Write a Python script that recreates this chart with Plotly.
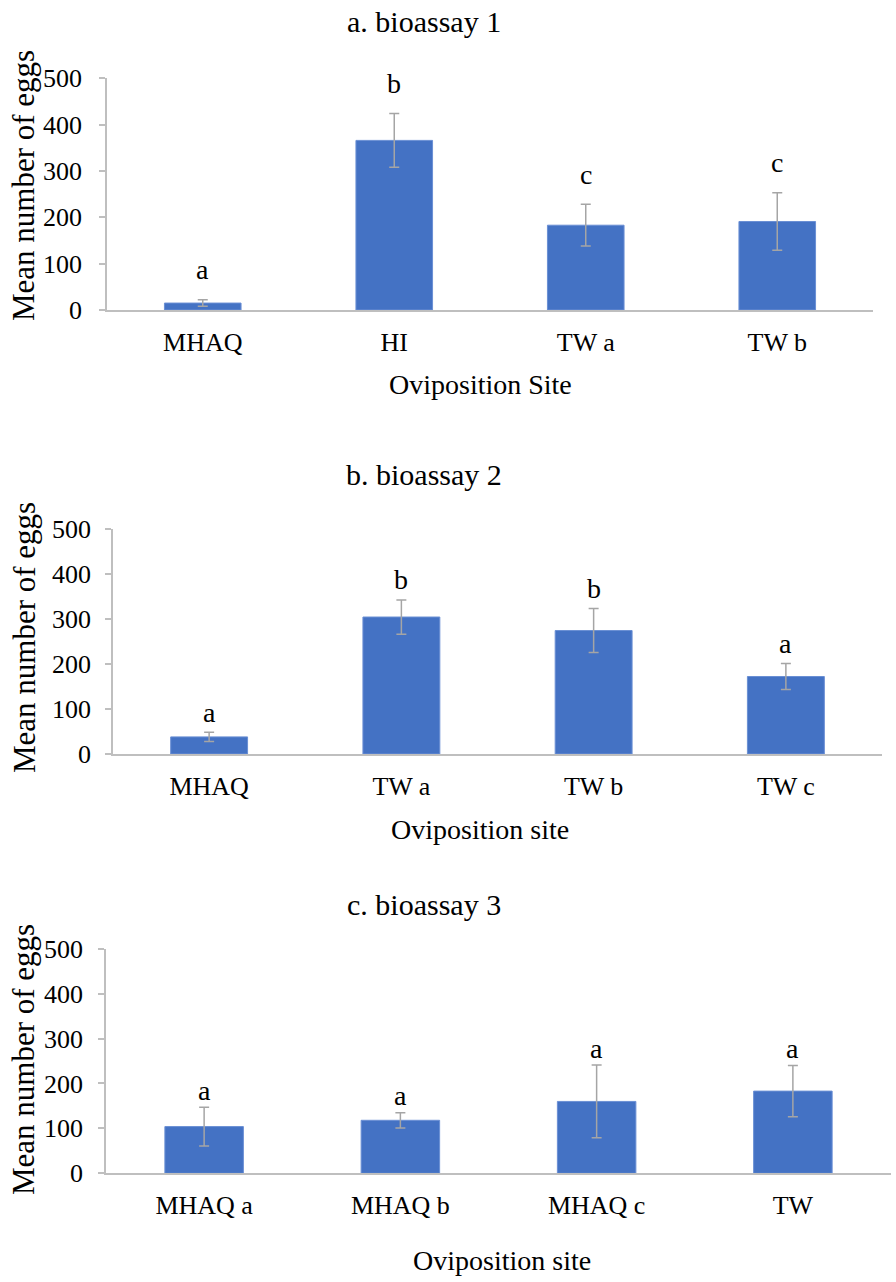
import plotly.graph_objects as go

# ---------------- data ----------------
cats_a = ["MHAQ", "HI", "TW a", "TW b"]
mean_a = [15, 366, 183, 191]
err_a = [7, 58, 45, 62]
let_a = ["a", "b", "c", "c"]

cats_b = ["MHAQ", "TW a", "TW b", "TW c"]
mean_b = [38, 304, 274, 172]
err_b = [10, 38, 49, 29]
let_b = ["a", "b", "b", "a"]

cats_c = ["MHAQ a", "MHAQ b", "MHAQ c", "TW"]
mean_c = [104, 118, 160, 183]
err_c = [43, 17, 81, 57]
let_c = ["a", "a", "a", "a"]

titles = ["a. bioassay 1", "b. bioassay 2", "c. bioassay 3"]
xtitles = ["Oviposition Site", "Oviposition site", "Oviposition site"]
ytitle = "Mean number of eggs"
y_ticks = [0, 100, 200, 300, 400, 500]

# ---------------- layout helpers ----------------
W, H = 896, 1282
FONT = "Liberation Serif"
BAR = "#4472C4"
AXC = "#BFBFBF"
ERRC = "#A5A5A5"


def px(x):
    return x / W


def py(y):
    return 1 - y / H


# pixel geometry of each panel: (x0, x1, ytop(500), ybottom(0))
geo = [(107, 873, 78.3, 310), (113, 882, 528.7, 754), (106, 891, 948.7, 1173.3)]
title_mid = [22, 474, 904]
title_x = [424, 424, 424]
xtitle_pos = [(480, 384), (480, 829), (502, 1260)]
ytitle_pos = [(23, 186), (24, 638), (23, 1060)]
letter_shift = [30, 20, 17]
tick_standoff = [12, 9, 10]

panels = [(cats_a, mean_a, err_a, let_a), (cats_b, mean_b, err_b, let_b), (cats_c, mean_c, err_c, let_c)]

fig = go.Figure()
annotations = []
for i, (cats, means, errs, lets) in enumerate(panels):
    k = "" if i == 0 else str(i + 1)
    fig.add_trace(go.Bar(
        x=cats, y=means,
        xaxis="x" + k, yaxis="y" + k,
        marker=dict(color=BAR, line=dict(color="#6A8FD4", width=1)),
        error_y=dict(type="data", array=errs, visible=True, color=ERRC, thickness=1.5, width=5),
        showlegend=False,
    ))
    x0, x1, yt, yb = geo[i]
    fig.update_layout(**{
        "xaxis" + k: dict(
            domain=[px(x0), px(x1)], anchor="y" + k, automargin=False,
            showline=True, linecolor=AXC, linewidth=1.5,
            ticks="", showgrid=False, zeroline=False,
            tickfont=dict(family=FONT, size=26, color="black"),
            ticklabelstandoff=8,
        ),
        "yaxis" + k: dict(
            domain=[py(yb), py(yt)], anchor="x" + k, automargin=False,
            range=[0, 500], tickvals=y_ticks,
            showline=True, linecolor=AXC, linewidth=1.5,
            ticks="outside", ticklen=6, tickcolor=AXC, tickwidth=1.5,
            showgrid=False, zeroline=False,
            tickfont=dict(family=FONT, size=26, color="black"),
            ticklabelstandoff=tick_standoff[i],
        ),
    })
    for c, m, e, l in zip(cats, means, errs, lets):
        annotations.append(dict(
            x=c, y=m + e, xref="x" + k, yref="y" + k, text=l, showarrow=False,
            yanchor="middle", yshift=letter_shift[i],
            font=dict(family=FONT, size=28, color="black"),
        ))
    annotations.append(dict(
        x=px(title_x[i]), y=py(title_mid[i]), xref="paper", yref="paper",
        text=titles[i], showarrow=False, xanchor="center", yanchor="middle", borderpad=0,
        font=dict(family=FONT, size=30, color="black"),
    ))
    annotations.append(dict(
        x=px(xtitle_pos[i][0]), y=py(xtitle_pos[i][1]), xref="paper", yref="paper",
        text=xtitles[i], showarrow=False, xanchor="center", yanchor="middle",
        font=dict(family=FONT, size=28, color="black"),
    ))
    annotations.append(dict(
        x=px(ytitle_pos[i][0]), y=py(ytitle_pos[i][1]), xref="paper", yref="paper",
        text=ytitle, showarrow=False, xanchor="center", yanchor="middle", textangle=-90,
        borderpad=0,
        font=dict(family=FONT, size=31, color="black"),
    ))

fig.update_layout(
    width=W, height=H,
    margin=dict(l=0, r=0, t=0, b=0, autoexpand=False),
    paper_bgcolor="white", plot_bgcolor="white",
    bargap=0.6,
    annotations=annotations,
    font=dict(family=FONT, color="black"),
)

fig.write_html("out.html", config={"displayModeBar": False},
               post_script="document.body.style.margin='0';")
